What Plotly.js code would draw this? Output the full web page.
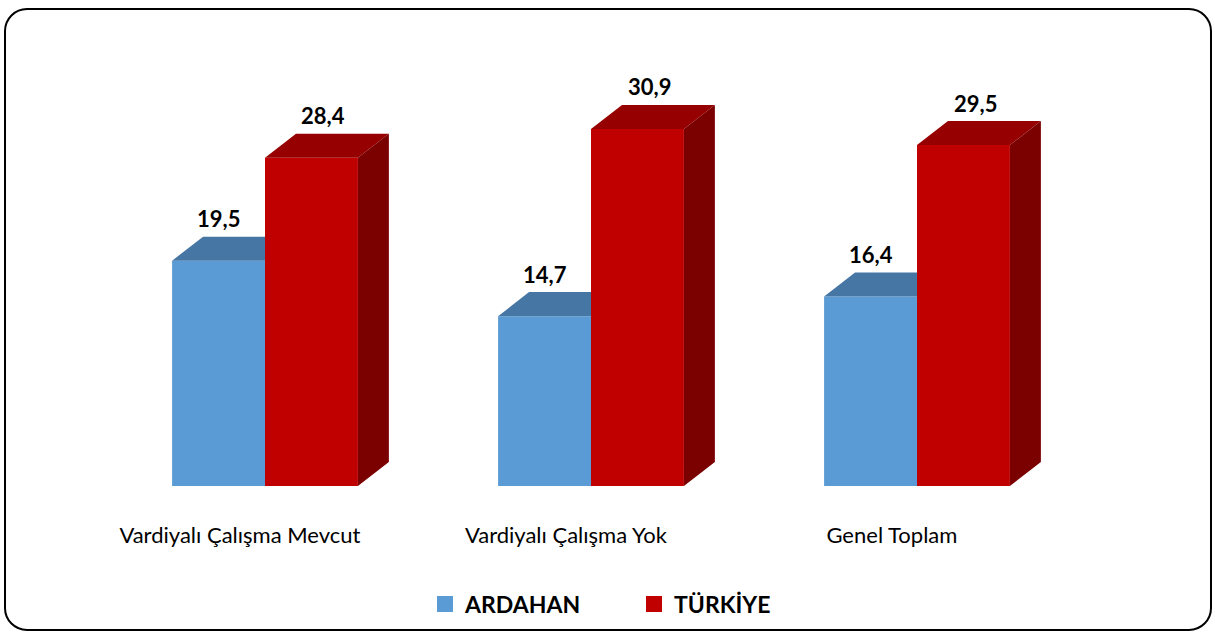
<!DOCTYPE html>
<html><head><meta charset="utf-8">
<script src="https://cdn.plot.ly/plotly-3.0.1.min.js"></script>
<style>
body{margin:0;background:#fff}
#chart{width:1215px;height:632px}
#frame{position:absolute;left:4px;top:8px;width:1208px;height:623px;border:2px solid #000;border-radius:23px;pointer-events:none;box-sizing:border-box}
</style>
</head><body>
<div id="chart"></div><div id="frame"></div>
<script>
const categories = ['Vardiyalı Çalışma Mevcut', 'Vardiyalı Çalışma Yok', 'Genel Toplam'];
const ardahan = [19.5, 14.7, 16.4];
const turkiye = [28.4, 30.9, 29.5];
const seriesNames = ['ARDAHAN', 'TÜRKİYE'];

const fmt = v => v.toFixed(1).replace('.', ',');
const idx = categories.map((_, i) => i);

// geometry (data units)
const W = 0.285, DX = 0.095, DY = 2.08;
const colA = {front: '#5B9BD5', top: '#4676A4'};
const colT = {front: '#C00000', top: '#970000', side: '#7B0000'};

const traces = [];
traces.push({type: 'bar', x: idx, y: ardahan, width: W, offset: -W, marker: {color: colA.front, line: {width: 0}}, showlegend: false, hoverinfo: 'skip'});
traces.push({type: 'bar', x: idx, y: turkiye, width: W, offset: 0, marker: {color: colT.front, line: {width: 0}}, showlegend: false, hoverinfo: 'skip'});

function poly(xs, ys, color) {
  return {type: 'scatter', mode: 'lines', x: xs, y: ys, fill: 'toself', fillcolor: color, line: {width: 0, color: color}, showlegend: false, hoverinfo: 'skip'};
}
idx.forEach(i => {
  const v = ardahan[i], x0 = i - W, x1 = i;
  traces.push(poly([x0, x1, x1, x0 + DX, x0], [v, v, v + DY, v + DY, v], colA.top));
});
idx.forEach(i => {
  const v = turkiye[i], x0 = i, x1 = i + W;
  traces.push(poly([x0, x1, x1 + DX, x0 + DX, x0], [v, v, v + DY, v + DY, v], colT.top));
  traces.push(poly([x1, x1 + DX, x1 + DX, x1, x1], [0, DY, v + DY, v, 0], colT.side));
});
traces.push({type: 'scatter', mode: 'markers', x: [null], y: [null], name: seriesNames[0], marker: {symbol: 'square', size: 16, color: colA.front}});
traces.push({type: 'scatter', mode: 'markers', x: [null], y: [null], name: seriesNames[1], marker: {symbol: 'square', size: 16, color: colT.front}});

const annotations = [];
idx.forEach(i => {
  annotations.push({x: i - W / 2, y: ardahan[i], text: '<b>' + fmt(ardahan[i]) + '</b>', showarrow: false, yshift: 42, xshift: 0, font: {size: 22, color: '#000', family: 'Lato'}});
  annotations.push({x: i + W / 2, y: turkiye[i], text: '<b>' + fmt(turkiye[i]) + '</b>', showarrow: false, yshift: 42, xshift: 12, font: {size: 22, color: '#000', family: 'Lato'}});
});

const layout = {
  width: 1215, height: 632,
  margin: {l: 102, r: 135, t: 70, b: 146, autoexpand: false},
  paper_bgcolor: 'rgba(0,0,0,0)', plot_bgcolor: 'rgba(0,0,0,0)',
  font: {family: 'Lato', color: '#000'},
  showlegend: true,
  legend: {orientation: 'h', xref: 'paper', x: (425 - 102) / 978, xanchor: 'left', y: (486 - 604) / 416, yanchor: 'middle',
           entrywidth: 164, entrywidthmode: 'pixels', font: {size: 23, family: 'Lato', weight: 'bold', color: '#000'}, bgcolor: 'rgba(0,0,0,0)'},
  xaxis: {range: [-0.5, 2.5], showgrid: false, zeroline: false, showline: false, ticks: '', automargin: false,
          tickvals: idx.map(i => i - 0.077), ticktext: categories, tickfont: {size: 22, family: 'Lato', color: '#000'}, ticklabelstandoff: 34, fixedrange: true},
  yaxis: {range: [0, 36], showgrid: false, zeroline: false, showline: false, showticklabels: false, ticks: '', automargin: false, fixedrange: true},
  annotations: annotations
};
Plotly.newPlot('chart', traces, layout, {staticPlot: true});
</script>
</body></html>
